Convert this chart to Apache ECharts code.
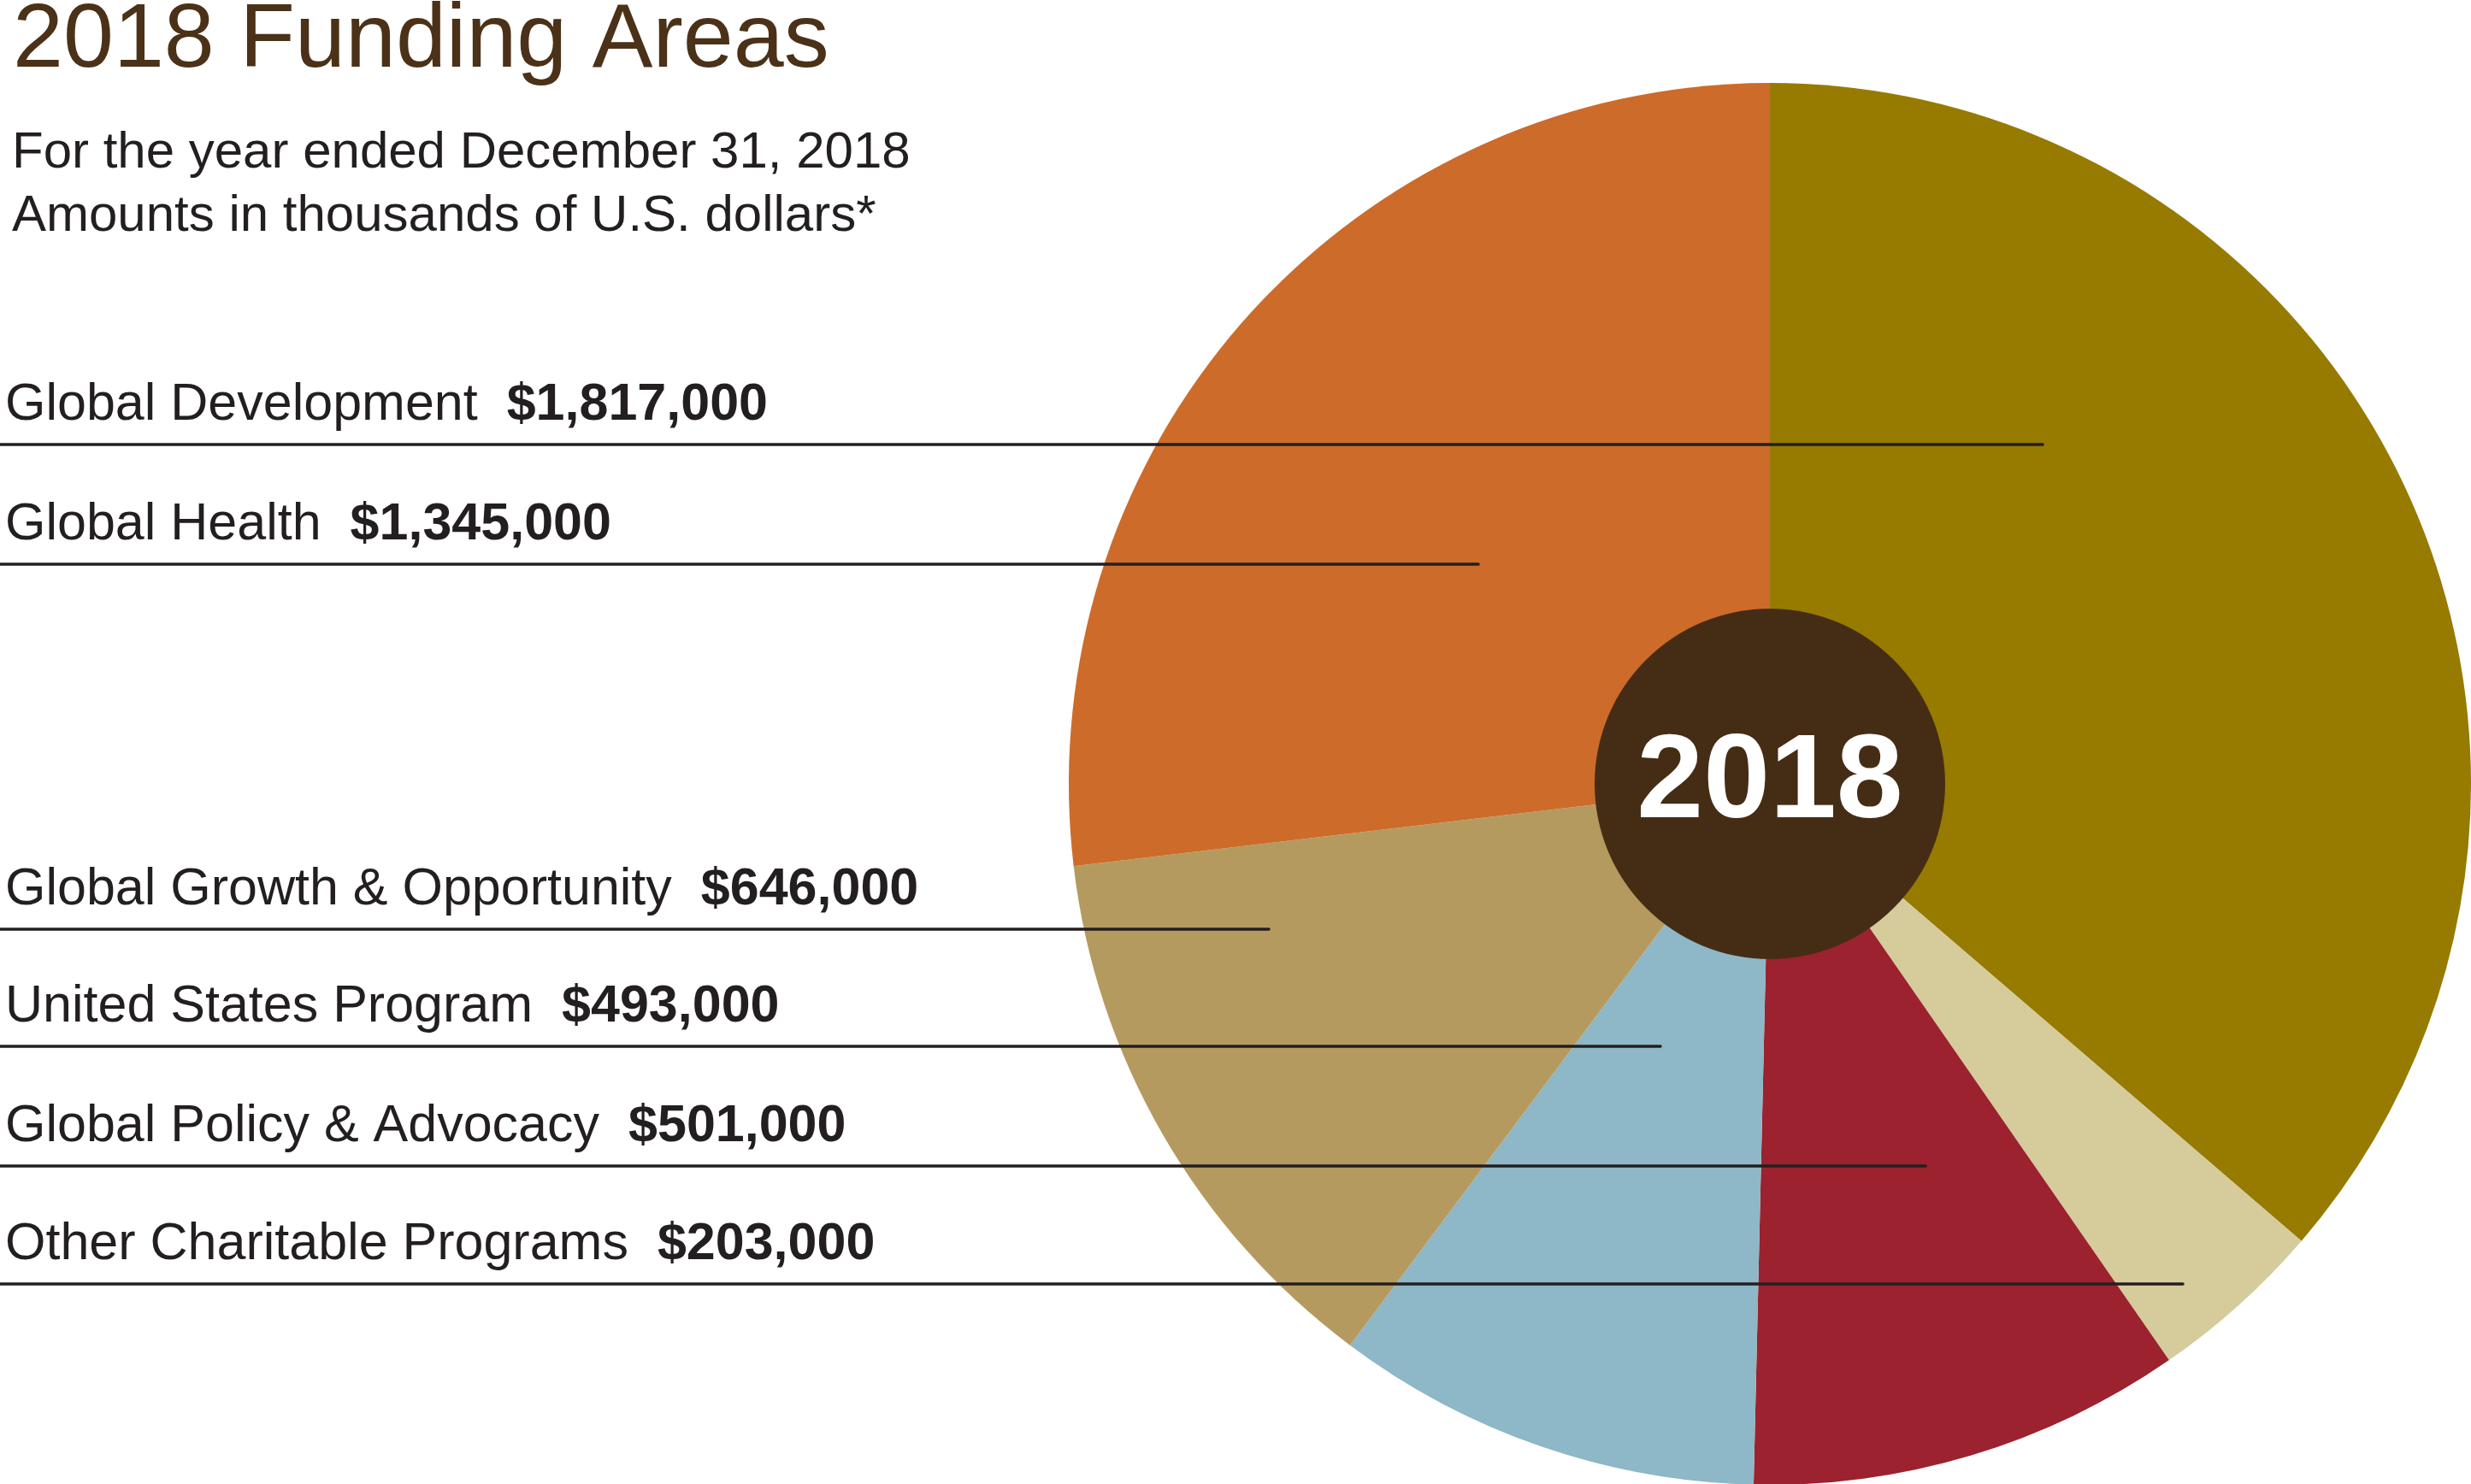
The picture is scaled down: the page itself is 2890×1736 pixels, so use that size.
<!DOCTYPE html>
<html>
<head>
<meta charset="utf-8">
<script src="https://cdn.jsdelivr.net/npm/echarts@6/dist/echarts.min.js"></script>
<style>
  html, body { margin: 0; padding: 0; background: #ffffff; }
  #chart { width: 2890px; height: 1736px; }
</style>
</head>
<body>
<div id="chart"></div>
<script>
// ---- data (clockwise order from 12 o'clock) ----
const categories = [
  'Global Development',
  'Other Charitable Programs',
  'Global Policy & Advocacy',
  'United States Program',
  'Global Growth & Opportunity',
  'Global Health'
];
const amounts = [1817000, 203000, 501000, 493000, 646000, 1345000];
const sliceColors = ['#967b00', '#d6cb9b', '#9b222e', '#8eb7c7', '#b59a5f', '#cd6b2b'];

// legend list order (top to bottom)
const legendOrder = [
  'Global Development',
  'Global Health',
  'Global Growth & Opportunity',
  'United States Program',
  'Global Policy & Advocacy',
  'Other Charitable Programs'
];

const titleText = '2018 Funding Areas';
const subtitleLines = ['For the year ended December 31, 2018', 'Amounts in thousands of U.S. dollars*'];
const centerLabel = '2018';

// ---- layout ----
const CX = 2070, CY = 917, R = 820, HOLE_R = 205;
const FONT = '"Liberation Sans", Arial, sans-serif';
const MID = 0.3465; // canvas "middle" baseline offset (em)
const legendLineY = [520, 660, 1087, 1224, 1364, 1502];
const legendLineEnd = [2389, 1729, 1484, 1942, 2252, 2553];

function fmt(v) { return '$' + v.toLocaleString('en-US'); }

const graphic = [];
// title
graphic.push({
  type: 'text', x: 15, y: 85 - MID * 106, z: 100,
  style: { text: titleText, font: '106px ' + FONT, fill: '#4a3118', verticalAlign: 'middle', align: 'left' }
});
// subtitle
const subBase = [200, 274];
subtitleLines.forEach((t, i) => {
  graphic.push({
    type: 'text', x: 14, y: subBase[i] - MID * 60, z: 100,
    style: { text: t, font: '60px ' + FONT, fill: '#231f20', verticalAlign: 'middle', align: 'left' }
  });
});
// legend entries with leader lines
legendOrder.forEach((name, i) => {
  const idx = categories.indexOf(name);
  const ly = legendLineY[i];
  graphic.push({
    type: 'text', x: 6, y: ly - 25 - MID * 61, z: 100,
    style: {
      text: '{n|' + name + '}{g|}{v|' + fmt(amounts[idx]) + '}',
      verticalAlign: 'middle', align: 'left',
      rich: {
        n: { fontFamily: FONT, fontSize: 61, fill: '#231f20', color: '#231f20' },
        g: { width: 34, fontSize: 61 },
        v: { fontFamily: FONT, fontSize: 61, fontWeight: 'bold', fill: '#231f20', color: '#231f20' }
      }
    }
  });
  graphic.push({
    type: 'line', z: 100,
    shape: { x1: 0, y1: ly, x2: legendLineEnd[i], y2: ly },
    style: { stroke: '#231f20', lineWidth: 3.5, lineCap: 'round' }
  });
});
// center disc + year
graphic.push({
  type: 'circle', z: 90,
  shape: { cx: CX, cy: CY, r: HOLE_R },
  style: { fill: '#452d15' }
});
graphic.push({
  type: 'text', x: CX, y: 966 - MID * 140, z: 101,
  style: { text: centerLabel, font: 'bold 140px ' + FONT, fill: '#ffffff', align: 'center', verticalAlign: 'middle' }
});

const chart = echarts.init(document.getElementById('chart'), null, { renderer: 'canvas' });
chart.setOption({
  backgroundColor: '#ffffff',
  animation: false,
  series: [{
    type: 'pie',
    center: [CX, CY],
    radius: [0, R],
    startAngle: 90,
    clockwise: true,
    silent: true,
    label: { show: false },
    labelLine: { show: false },
    emphasis: { disabled: true },
    itemStyle: { borderWidth: 0 },
    data: categories.map((c, i) => ({ name: c, value: amounts[i], itemStyle: { color: sliceColors[i] } }))
  }],
  graphic: graphic
});
</script>
</body>
</html>
